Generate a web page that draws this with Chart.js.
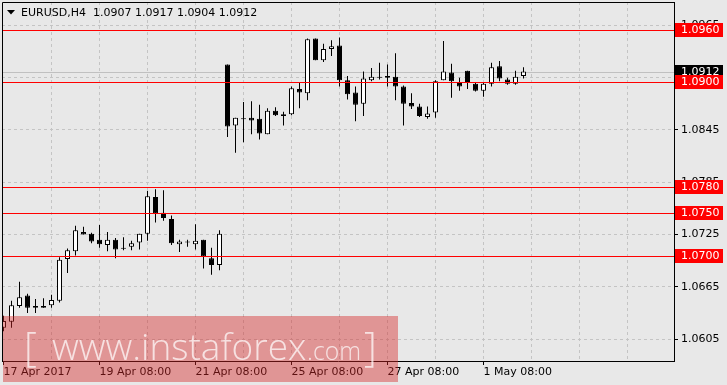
<!DOCTYPE html>
<html>
<head>
<meta charset="utf-8">
<script src="https://cdn.jsdelivr.net/npm/chart.js@4.4.1/dist/chart.umd.min.js"></script>
<style>
  html, body { margin: 0; padding: 0; background: #e8e8e8; }
  canvas { display: block; }
</style>
</head>
<body>
<canvas id="chart" width="727" height="385"></canvas>
<script>
// EURUSD H4 candles, one entry per bar (bar 0 = 17 Apr 08:00)
const opens = [
  1.0618, 1.0625, 1.0643, 1.0655, 1.0643, 1.0643, 1.0644, 1.0649, 1.0697, 1.0706,
  1.0728, 1.0726, 1.0719, 1.0713, 1.0719, 1.07092, 1.0711, 1.0716, 1.0726, 1.0768,
  1.0750, 1.0743, 1.0714, 1.07158, 1.0714, 1.0719, 1.0698, 1.0690, 1.0920, 1.0850,
  1.08577, 1.0859, 1.0858, 1.0840, 1.0867, 1.0863, 1.0863, 1.0892, 1.0887, 1.0950,
  1.0925, 1.0938, 1.0942, 1.0902, 1.0888, 1.0875, 1.0902, 1.09052, 1.0905, 1.0906,
  1.0895, 1.0876, 1.0872, 1.0860, 1.0865, 1.0902, 1.0911, 1.0900, 1.0913, 1.0898,
  1.0890, 1.0898, 1.0918, 1.0903, 1.0898, 1.0907
];
const highs = [
  1.0632, 1.0649, 1.0671, 1.0657, 1.0651, 1.0652, 1.0656, 1.0699, 1.0709, 1.0735,
  1.0734, 1.0727, 1.0736, 1.0728, 1.0721, 1.0722, 1.0718, 1.0726, 1.0775, 1.0777,
  1.0776, 1.0747, 1.0719, 1.0719, 1.0737, 1.0719, 1.0710, 1.0730, 1.0920, 1.0859,
  1.0877, 1.0878, 1.0874, 1.0870, 1.0871, 1.0866, 1.0895, 1.0899, 1.0950, 1.0950,
  1.0944, 1.0948, 1.0951, 1.0907, 1.0895, 1.0912, 1.0916, 1.0922, 1.0920, 1.0933,
  1.0896, 1.0887, 1.0875, 1.0872, 1.0902, 1.0947, 1.0921, 1.0905, 1.0913, 1.0899,
  1.0899, 1.0922, 1.0924, 1.0905, 1.0913, 1.0917
];
const lows = [
  1.0614, 1.0618, 1.0641, 1.0635, 1.0635, 1.0641, 1.0641, 1.0647, 1.0681, 1.0701,
  1.0725, 1.0715, 1.0710, 1.0706, 1.0698, 1.0707, 1.0707, 1.0708, 1.0718, 1.0739,
  1.0741, 1.0713, 1.0705, 1.0711, 1.0708, 1.0686, 1.0679, 1.0684, 1.0837, 1.0819,
  1.0831, 1.0840, 1.0834, 1.0840, 1.0861, 1.0850, 1.0862, 1.0870, 1.0879, 1.0925,
  1.0923, 1.0930, 1.0895, 1.0880, 1.0855, 1.0861, 1.0901, 1.0903, 1.0895, 1.0879,
  1.0850, 1.0869, 1.0860, 1.0858, 1.0859, 1.0902, 1.0882, 1.0890, 1.0892, 1.0889,
  1.0883, 1.0895, 1.0901, 1.0897, 1.0897, 1.0904
];
const closes = [
  1.0626, 1.0644, 1.0653, 1.0641, 1.0641, 1.0641, 1.0650, 1.0696, 1.0707, 1.0730,
  1.0725, 1.0717, 1.0714, 1.0719, 1.0708, 1.07088, 1.0715, 1.0726, 1.0769, 1.0749,
  1.0744, 1.0715, 1.0717, 1.07162, 1.0718, 1.0700, 1.0690, 1.0726, 1.0849, 1.0859,
  1.08573, 1.0856, 1.0841, 1.0867, 1.0862, 1.0861, 1.0893, 1.0888, 1.0949, 1.0925,
  1.0938, 1.0941, 1.0902, 1.0886, 1.0874, 1.0904, 1.0906, 1.09048, 1.0907, 1.0895,
  1.0875, 1.0872, 1.0861, 1.0864, 1.0901, 1.0912, 1.0901, 1.0895, 1.0899, 1.0890,
  1.0898, 1.0917, 1.0904, 1.0898, 1.0906, 1.0912
];

const levelLines = [1.0960, 1.0900, 1.0780, 1.0750, 1.0700];
const bidPrice = 1.0912;
const yTicks = [1.0605, 1.0665, 1.0725, 1.0785, 1.0845, 1.0905, 1.0965];
const xGridBars = [0, 6, 12, 18, 24, 30, 36, 42, 48, 54, 60, 66, 72, 78];
const xTickBars = [0, 12, 24, 36, 48, 60];
const xTickLabels = ['17 Apr 2017', '19 Apr 08:00', '21 Apr 08:00', '25 Apr 08:00', '27 Apr 08:00', '1 May 08:00'];
const headerText = 'EURUSD,H4  1.0907 1.0917 1.0904 1.0912';

const FONT = 'DejaVu Sans';
const GRID = '#c4c4c4';

const bodyData = opens.map((o, i) => ({ x: i, y: [o, closes[i]] }));
const wickData = lows.map((l, i) => ({ x: i, y: [l, highs[i]] }));

const overlay = {
  id: 'overlay',
  beforeDraw(chart) {
    const ctx = chart.ctx;
    ctx.save();
    ctx.fillStyle = '#e8e8e8';
    ctx.fillRect(0, 0, chart.width, chart.height);
    ctx.restore();
  },
  beforeDatasetsDraw(chart) {
    const { ctx, chartArea: a, scales: { y } } = chart;
    const py = Math.round(y.getPixelForValue(bidPrice)) + 0.5;
    ctx.save();
    ctx.strokeStyle = '#c0c0c0';
    ctx.lineWidth = 1;
    ctx.beginPath();
    ctx.moveTo(a.left, py);
    ctx.lineTo(a.right, py);
    ctx.stroke();
    ctx.restore();
  },
  afterDatasetsDraw(chart) {
    const { ctx, chartArea: a, scales: { y } } = chart;
    ctx.save();
    ctx.strokeStyle = '#ff0000';
    ctx.lineWidth = 1;
    levelLines.forEach((v) => {
      const py = Math.round(y.getPixelForValue(v)) + 0.5;
      ctx.beginPath();
      ctx.moveTo(a.left, py);
      ctx.lineTo(a.right, py);
      ctx.stroke();
    });
    ctx.restore();
  },
  afterDraw(chart) {
    const { ctx, chartArea: a, scales: { y } } = chart;
    ctx.save();

    // frame top + left
    ctx.strokeStyle = '#000';
    ctx.lineWidth = 1;
    ctx.beginPath();
    ctx.moveTo(a.left + 0.5, a.bottom);
    ctx.lineTo(a.left + 0.5, a.top + 0.5);
    ctx.lineTo(a.right, a.top + 0.5);
    ctx.stroke();

    // price boxes on the right axis
    const box = (v, bg) => {
      const py = Math.round(y.getPixelForValue(v));
      ctx.fillStyle = bg;
      ctx.fillRect(a.right + 1, py - 7, 48, 14);
      ctx.fillStyle = '#fff';
      ctx.font = `11px "${FONT}"`;
      ctx.textAlign = 'left';
      ctx.textBaseline = 'middle';
      ctx.fillText(v.toFixed(4), a.right + 7, py + 0.5);
    };
    box(bidPrice, '#000');
    levelLines.forEach((v) => box(v, '#ff0000'));

    // header
    ctx.fillStyle = '#000';
    ctx.beginPath();
    ctx.moveTo(7, 10);
    ctx.lineTo(15, 10);
    ctx.lineTo(11, 14.5);
    ctx.closePath();
    ctx.fill();
    ctx.font = `11px "${FONT}"`;
    ctx.textAlign = 'left';
    ctx.textBaseline = 'middle';
    ctx.fillText(headerText, 21, 13);

    // watermark
    ctx.fillStyle = 'rgba(213, 40, 40, 0.43)';
    ctx.fillRect(3, 316, 395, 66);
    ctx.fillStyle = 'rgba(255, 255, 255, 0.72)';
    ctx.textBaseline = 'alphabetic';
    ctx.font = '300 40px "Open Sans"';
    ctx.fillText('[', 24, 361);
    ctx.fillText(']', 364, 361);
    ctx.font = '300 37px "Open Sans"';
    ctx.fillText('www.instaforex', 52, 360, 256);
    ctx.font = '300 26px "Open Sans"';
    ctx.fillText('.com', 307, 360, 54);
    ctx.restore();
  }
};

new Chart(document.getElementById('chart'), {
  type: 'bar',
  data: {
    datasets: [
      {
        label: 'body',
        data: bodyData,
        order: 0,
        grouped: false,
        barThickness: 5,
        minBarLength: 1,
        inflateAmount: 0,
        borderWidth: 1,
        borderSkipped: false,
        borderColor: '#000',
        backgroundColor: (c) => (closes[c.dataIndex] > opens[c.dataIndex] ? '#fff' : '#000')
      },
      {
        label: 'wick',
        data: wickData,
        order: 1,
        grouped: false,
        barThickness: 1,
        inflateAmount: 0,
        borderWidth: 0,
        backgroundColor: '#000'
      }
    ]
  },
  options: {
    responsive: false,
    animation: false,
    devicePixelRatio: 1,
    layout: { padding: { left: 2, top: 2, right: 0, bottom: 0 } },
    plugins: { legend: { display: false }, tooltip: { enabled: false } },
    scales: {
      x: {
        type: 'linear',
        offset: false,
        min: -0.1875,
        max: 83.8125,
        afterBuildTicks: (s) => { s.ticks = xGridBars.map((v) => ({ value: v })); },
        afterFit: (s) => { s.height = 24; s.paddingLeft = 0; s.paddingRight = 0; },
        ticks: {
          autoSkip: false,
          maxRotation: 0,
          align: 'start',
          padding: 1,
          color: '#000',
          font: { family: FONT, size: 11 },
          callback: (v) => {
            const k = xTickBars.indexOf(v);
            return k >= 0 ? xTickLabels[k] : '';
          }
        },
        grid: {
          offset: false,
          color: (c) => (c.tick && c.tick.value === 0 ? 'rgba(0,0,0,0)' : GRID),
          tickColor: (c) => (c.tick && xTickBars.includes(c.tick.value) ? '#000' : 'rgba(0,0,0,0)'),
          tickLength: 4,
          tickBorderDash: []
        },
        border: { display: true, color: '#000', dash: [3, 3] }
      },
      y: {
        type: 'linear',
        position: 'right',
        min: 1.0580,
        max: 1.09918,
        afterBuildTicks: (s) => { s.ticks = yTicks.map((v) => ({ value: v })); },
        afterFit: (s) => { s.width = 53; s.paddingTop = 0; s.paddingBottom = 0; },
        ticks: {
          padding: 3,
          color: '#000',
          font: { family: FONT, size: 11 },
          callback: (v) => v.toFixed(4)
        },
        grid: {
          color: GRID,
          tickColor: '#000',
          tickLength: 4,
          tickBorderDash: []
        },
        border: { display: true, color: '#000', dash: [3, 3] }
      }
    }
  },
  plugins: [overlay]
});
</script>
</body>
</html>
